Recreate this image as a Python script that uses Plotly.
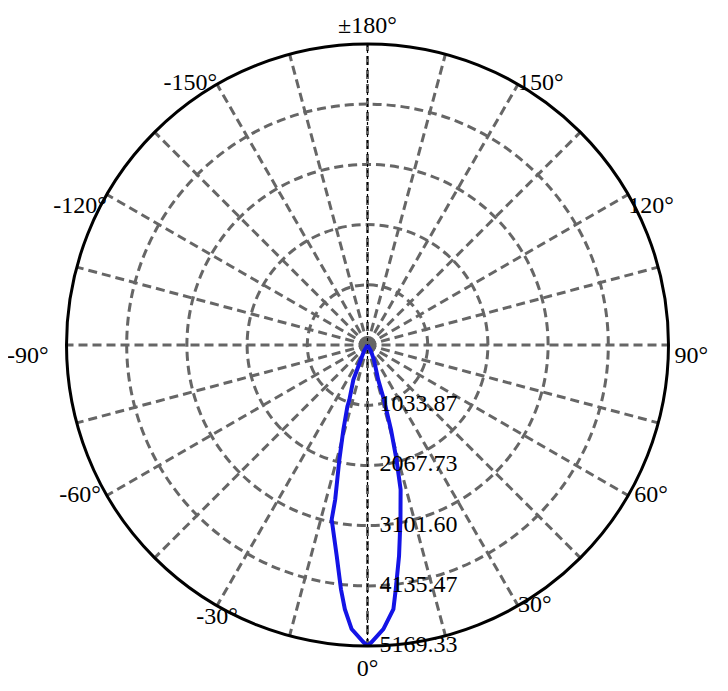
import plotly.graph_objects as go

# luminous intensity distribution (cd)
theta_deg = [-180, -90, -35, -30, -24.4, -22.1, -18.3, -18.1, -15.9, -13.8,
             -11.8, -11.6, -8.3, -6.2, -4.9, -3.2, -0.8, 0,
             0.8, 3.2, 5.6, 6.6, 8.5, 10.7, 12.9, 14.2, 15.5, 16.7, 17.1,
             23.4, 30, 35, 90, 180]
intensity = [0, 0, 0, 120, 282, 647, 992, 1111, 1513, 2027,
             2712, 3058, 3662, 4220, 4553, 4886, 5102, 5169.33,
             5102, 4886, 4559, 4223, 3665, 3050, 2547, 2031, 1510, 983, 627,
             280, 120, 0, 0, 0]

r_max = 5169.33
r_ticks = [1033.87, 2067.73, 3101.60, 4135.47, 5169.33]
r_labels = ["1033.87", "2067.73", "3101.60", "4135.47", "5169.33"]

ang_ticks = list(range(0, 360, 15))
axis_labels = {0: "0°", 180: "±180°"}

label_angles = [30, 60, 90, 120, 150, 210, 240, 270, 300, 330]
label_texts = ["30°", "60°", "90°", "120°", "150°",
               "-150°", "-120°", "-90°", "-60°", "-30°"]

# where each side label sits around its grid line end
label_pos = ["middle right", "middle right", "bottom right", "bottom right",
             "middle right", "middle left", "bottom left", "bottom left",
             "middle left", "bottom center"]
pad = "\u00a0"
label_text_out = {"90°": pad + "90°", "-90°": "-90°" + pad * 3,
                  "60°": pad + "60°", "-60°": "-60°" + pad}

grid_col = "#666666"
font = dict(family="Liberation Serif", size=24, color="black")

fig = go.Figure()

# thin black dashed axis line along the 0/180 diameter
fig.add_trace(go.Scatterpolar(
    r=[r_max, 0, r_max], theta=[180, 0, 0], mode="lines",
    line=dict(color="black", width=1.2, dash="3px,3px"),
    hoverinfo="skip", showlegend=False))

fig.add_trace(go.Scatterpolar(
    r=intensity, theta=theta_deg, mode="lines",
    line=dict(color="#1414e6", width=4),
    showlegend=False))

# radial tick labels along the 0° direction
fig.add_trace(go.Scatterpolar(
    r=r_ticks, theta=[0] * len(r_ticks), mode="text",
    text=[pad * 2 + t for t in r_labels], textposition="middle right",
    textfont=font, hoverinfo="skip", showlegend=False, cliponaxis=False))

# side angle labels at the outer circle
fig.add_trace(go.Scatterpolar(
    r=[r_max] * len(label_angles), theta=label_angles, mode="text",
    text=[label_text_out.get(t, t) for t in label_texts],
    textposition=label_pos, textfont=font,
    hoverinfo="skip", showlegend=False, cliponaxis=False))

fig.update_layout(
    width=728, height=691,
    margin=dict(l=0, r=0, t=0, b=0),
    paper_bgcolor="white",
    font=font,
    polar=dict(
        domain=dict(x=[58.5 / 728, 660.5 / 728], y=[53 / 691, 655 / 691]),
        bgcolor="white",
        angularaxis=dict(
            rotation=-90, direction="counterclockwise",
            tickmode="array", tickvals=ang_ticks,
            ticktext=[axis_labels.get(a, "") for a in ang_ticks],
            tickfont=font,
            ticks="", showline=True, linecolor="black", linewidth=3,
            gridcolor=grid_col, gridwidth=3, griddash="9px,5px"),
        radialaxis=dict(
            range=[0, r_max], angle=-90,
            tickmode="array", tickvals=r_ticks,
            showticklabels=False, ticks="", showline=False,
            gridcolor=grid_col, gridwidth=3, griddash="9px,5px"),
    ),
)

fig.write_html("out.html")
